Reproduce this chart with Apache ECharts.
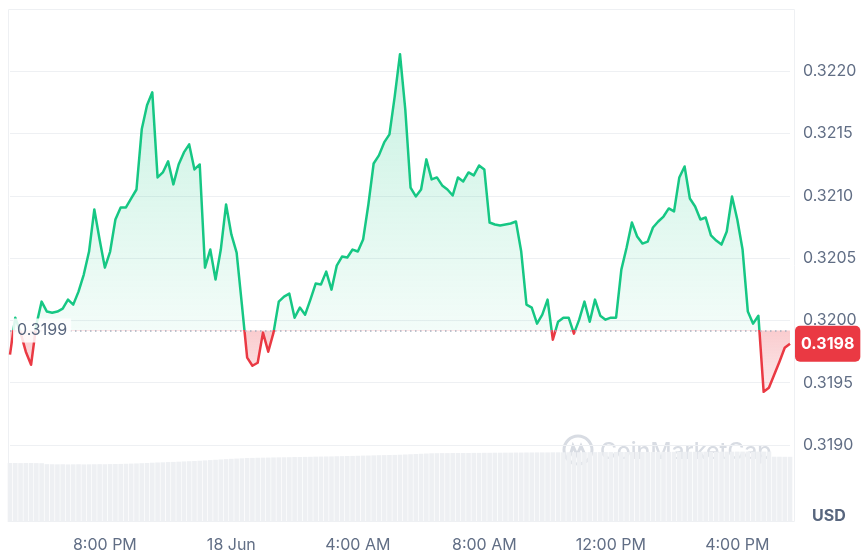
<!DOCTYPE html>
<html>
<head>
<meta charset="utf-8">
<script src="https://cdn.jsdelivr.net/npm/echarts@6/dist/echarts.min.js"></script>
<style>
  html, body { margin: 0; padding: 0; background: #fff; }
  #chart { width: 865px; height: 558px; }
</style>
</head>
<body>
<div id="chart"></div>
<script>
// price every 10 minutes, from 17 Jun 5:00 PM
const price = [
  0.319725, 0.320022, 0.319902, 0.319749, 0.319644, 0.319966, 0.320151, 0.320071, 0.320062, 0.320071,
  0.320095, 0.320167, 0.320127, 0.320231, 0.320368, 0.320553, 0.320891, 0.320649, 0.320424, 0.320553,
  0.320810, 0.320907, 0.320907, 0.320979, 0.321051, 0.321534, 0.321727, 0.321831, 0.321148, 0.321188,
  0.321277, 0.321092, 0.321252, 0.321349, 0.321413, 0.321212, 0.321252, 0.320424, 0.320569, 0.320328,
  0.320569, 0.320931, 0.320690, 0.320545, 0.320127, 0.319701, 0.319636, 0.319660, 0.319902, 0.319749,
  0.319902, 0.320151, 0.320191, 0.320215, 0.320022, 0.320103, 0.320046, 0.320167, 0.320296, 0.320288,
  0.320392, 0.320247, 0.320440, 0.320513, 0.320505, 0.320569, 0.320553, 0.320649, 0.320931, 0.321260,
  0.321325, 0.321429, 0.321494, 0.321799, 0.322137, 0.321695, 0.321067, 0.320995, 0.321051, 0.321293,
  0.321132, 0.321148, 0.321084, 0.321051, 0.321003, 0.321148, 0.321116, 0.321188, 0.321164, 0.321244,
  0.321212, 0.320786, 0.320770, 0.320762, 0.320770, 0.320778, 0.320794, 0.320553, 0.320127, 0.320103,
  0.319974, 0.320046, 0.320167, 0.319845, 0.319990, 0.320022, 0.320022, 0.319894, 0.320006, 0.320151,
  0.319990, 0.320167, 0.320038, 0.320006, 0.320022, 0.320022, 0.320408, 0.320585, 0.320786, 0.320674,
  0.320617, 0.320633, 0.320746, 0.320794, 0.320834, 0.320899, 0.320875, 0.321148, 0.321236, 0.320979,
  0.320915, 0.320810, 0.320826, 0.320682, 0.320641, 0.320609, 0.320714, 0.320995, 0.320810, 0.320569,
  0.320071, 0.319974, 0.320038, 0.319427, 0.319459, 0.319564, 0.319669, 0.319781, 0.319813
];

// volume (relative units)
const volume = [
  73.8, 73.8, 73.6, 73.7, 73.8, 73.6, 73.5, 72.3, 72.2, 72.1,
  72.2, 72.0, 72.1, 72.2, 72.0, 72.1, 72.2, 72.3, 72.2, 72.4,
  72.5, 72.6, 72.8, 73.0, 73.2, 73.5, 73.8, 74.1, 74.4, 74.6,
  74.9, 75.1, 75.4, 75.7, 76.0, 76.3, 76.6, 77.0, 77.4, 77.8,
  78.2, 78.6, 79.0, 79.3, 79.6, 80.0, 80.1, 80.3, 80.4, 80.5,
  80.7, 80.8, 80.9, 81.0, 81.2, 81.3, 81.4, 81.5, 81.7, 81.8,
  81.9, 82.0, 82.2, 82.3, 82.5, 82.6, 82.8, 83.0, 83.1, 83.3,
  83.5, 83.6, 83.8, 83.9, 84.1, 84.4, 84.7, 85.0, 85.3, 85.6,
  85.9, 86.0, 86.1, 86.1, 86.2, 86.2, 86.3, 86.3, 86.4, 86.4,
  86.5, 86.5, 86.6, 86.6, 86.7, 86.7, 86.8, 86.8, 86.9, 86.9,
  87.0, 87.0, 87.0, 87.1, 87.1, 87.1, 87.2, 87.2, 87.2, 87.3,
  87.3, 87.3, 87.4, 87.4, 87.4, 87.5, 87.5, 87.5, 87.5, 87.6,
  87.6, 87.6, 87.6, 87.7, 87.7, 87.7, 87.7, 87.8, 87.8, 87.8,
  87.8, 87.8, 87.9, 87.9, 87.9, 87.9, 87.9, 87.9, 88.0, 88.0,
  88.0, 88.0, 88.0, 88.0, 88.0, 81.6, 81.6, 81.5, 81.5
];

const openPrice = 0.31992;
const tickTimes = ['17 Jun 20:00', '18 Jun 00:00', '18 Jun 04:00', '18 Jun 08:00', '18 Jun 12:00', '18 Jun 16:00'];
const tickLabels = ['8:00 PM', '18 Jun', '4:00 AM', '8:00 AM', '12:00 PM', '4:00 PM'];

const categories = price.map((_, i) => {
  const m = 17 * 60 + i * 10;
  const day = 17 + Math.floor(m / 1440);
  const hh = Math.floor((m % 1440) / 60);
  const mm = m % 60;
  return day + ' Jun ' + String(hh).padStart(2, '0') + ':' + String(mm).padStart(2, '0');
});

const green = '#16c784';
const red = '#ea3943';
const labelColor = '#616e85';

const maxP = Math.max(...price);
const minP = Math.min(...price);
const split = (maxP - openPrice) / (maxP - minP);
const lastPrice = price[price.length - 1];

const chart = echarts.init(document.getElementById('chart'));

chart.setOption({
  animation: false,
  textStyle: { fontFamily: 'Inter' },
  grid: [
    { left: 10, right: 75, top: 9, bottom: 113 },
    { left: 10, right: 75, top: 442, bottom: 36 }
  ],
  xAxis: [
    { type: 'category', gridIndex: 0, data: categories, boundaryGap: false, show: false },
    {
      type: 'category', gridIndex: 1, data: categories, boundaryGap: false,
      axisLine: { show: false }, axisTick: { show: false },
      axisLabel: {
        margin: 15, fontSize: 16, color: labelColor,
        interval: (idx, value) => tickTimes.indexOf(value) >= 0,
        formatter: (value) => tickLabels[tickTimes.indexOf(value)]
      }
    }
  ],
  yAxis: [
    {
      type: 'value', gridIndex: 0, position: 'right',
      min: 0.3190, max: 0.3225, interval: 0.0005,
      axisLine: { show: false }, axisTick: { show: false },
      splitLine: { lineStyle: { color: '#eef0f3' } },
      axisLabel: {
        margin: 13, fontSize: 16, color: labelColor,
        showMaxLabel: false,
        formatter: (v) => v.toFixed(4)
      }
    },
    { type: 'value', gridIndex: 1, min: 0, max: 100, show: false }
  ],
  visualMap: {
    show: false,
    type: 'piecewise',
    seriesIndex: 0,
    dimension: 1,
    pieces: [
      { gt: 0.3150, lte: openPrice, color: red },
      { gt: openPrice, lte: 0.3250, color: green }
    ],
    outOfRange: { color: green }
  },
  series: [
    {
      name: 'Price',
      type: 'line',
      xAxisIndex: 0,
      yAxisIndex: 0,
      data: price,
      symbol: 'none',
      lineStyle: { width: 2.5, join: 'round' },
      areaStyle: {
        origin: openPrice,
        opacity: 1,
        color: new echarts.graphic.LinearGradient(0, 0, 0, 1, [
          { offset: 0, color: 'rgba(22,199,132,0.24)' },
          { offset: split, color: 'rgba(22,199,132,0.05)' },
          { offset: split, color: 'rgba(234,57,67,0.26)' },
          { offset: 1, color: 'rgba(234,57,67,0.10)' }
        ])
      },
      markLine: {
        silent: true,
        precision: 6,
        symbol: ['none', 'none'],
        animation: false,
        data: [
          {
            yAxis: openPrice,
            lineStyle: { color: '#a6aebd', type: [1.5, 3.5], width: 1.5 },
            label: {
              show: true,
              position: 'insideStart',
              distance: 3,
              formatter: '0.3199',
              fontSize: 16,
              color: '#58667e',
              backgroundColor: 'rgba(255,255,255,0.85)',
              padding: [4, 4]
            }
          },
          {
            yAxis: lastPrice,
            lineStyle: { color: 'rgba(0,0,0,0)', width: 0 },
            label: {
              show: true,
              position: 'end',
              distance: 5,
              formatter: (p) => p.value.toFixed(4),
              fontSize: 16,
              fontWeight: 'bold',
              color: '#fff',
              backgroundColor: red,
              borderRadius: 5,
              padding: [10, 6]
            }
          }
        ]
      }
    },
    {
      name: 'Volume',
      type: 'bar',
      xAxisIndex: 1,
      yAxisIndex: 1,
      data: volume,
      barCategoryGap: '12%',
      itemStyle: { color: '#eef0f3' },
      silent: true
    }
  ],
  graphic: [
    {
      type: 'rect', z: -1, silent: true,
      shape: { x: 8.5, y: 9.5, width: 786, height: 512 },
      style: { fill: 'none', stroke: '#eef0f3', lineWidth: 1 }
    },
    {
      type: 'group', z: 100, silent: true,
      children: [
        { type: 'circle', shape: { cx: 578, cy: 450, r: 14 }, style: { fill: 'none', stroke: '#d8dce3', lineWidth: 3 } },
        { type: 'polyline', shape: { points: [[570, 456], [573, 446], [577, 455], [581, 446], [585, 455]] }, style: { fill: 'none', stroke: '#d8dce3', lineWidth: 3 } },
        { type: 'text', style: { x: 600, y: 452, text: 'CoinMarketCap', font: '500 23px Inter', fill: '#d8dce3', verticalAlign: 'middle' } }
      ]
    },
    {
      type: 'text', silent: true,
      style: { x: 812, y: 516, text: 'USD', font: 'bold 16px Inter', fill: '#58667e', verticalAlign: 'middle' }
    }
  ]
});
</script>
</body>
</html>
